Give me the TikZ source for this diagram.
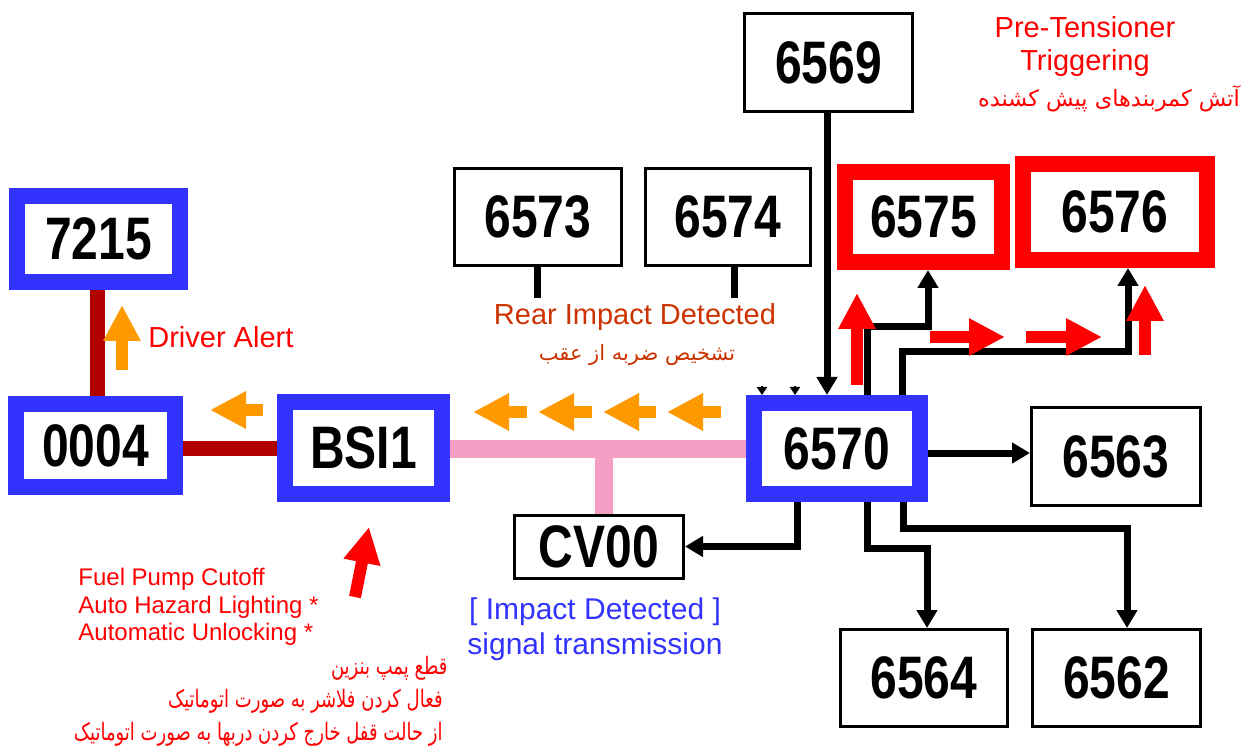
\documentclass[tikz,border=0pt]{standalone}
\usepackage{fontspec}
\setmainfont{Liberation Sans}
\newfontfamily\numfont[FakeStretch=0.8]{Liberation Sans Bold}
\newfontfamily\arabicfont[Script=Arabic]{DejaVu Sans}
\newfontfamily\arabicnarrow[Script=Arabic,FakeStretch=0.75]{DejaVu Sans}
\TeXXeTstate=1
\usetikzlibrary{arrows.meta,calc}
\definecolor{nblue}{RGB}{51,51,255}
\definecolor{busred}{RGB}{178,0,0}
\definecolor{buspink}{RGB}{244,158,196}
\definecolor{aorange}{RGB}{255,153,0}
\definecolor{reartxt}{RGB}{204,51,0}
\begin{document}
\begin{tikzpicture}[x=0.5pt,y=-0.5pt,
  thinbox/.style={draw=black, line width=1.5pt, fill=white, inner sep=0pt,
    font=\numfont\fontsize{30}{30}\selectfont},
  bluebox/.style={thinbox, draw=nblue, line width=8pt},
  redbox/.style={thinbox, draw=red, line width=8pt},
  conn/.style={line width=3.5pt, -{Triangle[length=9pt,width=10pt]}},
  stub/.style={line width=3.5pt},
  oarrow/.style={draw=aorange, line width=6pt, -{Triangle[length=18pt,width=17.5pt]}},
  rarrow/.style={draw=red, line width=6pt, -{Triangle[length=18pt,width=17.5pt]}},
  redbus/.style={draw=busred, line width=7.5pt},
  pinkbus/.style={draw=buspink, line width=9pt},
  lbl/.style={inner sep=0pt, font=\fontsize{14.5}{16.5}\selectfont},
  fa/.style={inner sep=0pt, font=\arabicfont\fontsize{10.5}{12}\selectfont},
  falist/.style={inner sep=0pt, font=\arabicnarrow\fontsize{12}{14}\selectfont}
]
\useasboundingbox (0,0) rectangle (1250,749);
\fill[white] (0,0) rectangle (1250,749);

% nodes
\node[bluebox, minimum width=81.5pt, minimum height=43pt] (n7215) at (98.5,239) {7215};
\node[bluebox, minimum width=79.5pt, minimum height=41.5pt] (n0004) at (95.5,445.5) {0004};
\node[bluebox, minimum width=78.5pt, minimum height=46pt] (nBSI) at (363.5,448) {BSI1};
\node[bluebox, minimum width=83pt, minimum height=45.5pt] (n6570) at (837,448.5) {6570};
\node[redbox, minimum width=78.5pt, minimum height=45pt] (n6575) at (923.5,217) {6575};
\node[redbox, minimum width=92pt, minimum height=48pt] (n6576) at (1115,212) {6576};
\node[thinbox, minimum width=84pt, minimum height=49pt] (n6569) at (828.5,62.5) {6569};
\node[thinbox, minimum width=83.5pt, minimum height=48.5pt] (n6573) at (538,217) {6573};
\node[thinbox, minimum width=82.5pt, minimum height=48.5pt] (n6574) at (728,217) {6574};
\node[thinbox, minimum width=84.5pt, minimum height=49pt] (n6563) at (1116,456.5) {6563};
\node[thinbox, minimum width=83.5pt, minimum height=48.5pt] (n6564) at (924,678) {6564};
\node[thinbox, minimum width=84pt, minimum height=48.5pt] (n6562) at (1116.5,678) {6562};
\node[thinbox, minimum width=84.5pt, minimum height=31.5pt] (nCV) at (599,546.5) {CV00};

% bend points
\coordinate (p1) at (867,327);
\coordinate (p1b) at (928,327);
\coordinate (p2) at (902,352);
\coordinate (p2b) at (1128,352);
\coordinate (q) at (0,453);
\coordinate (c1) at (797,548);
\coordinate (c2) at (867,548);
\coordinate (c2b) at (927,548);
\coordinate (c3) at (903,528);
\coordinate (c3b) at (1127,528);
\coordinate (v1) at (827,0);
\coordinate (s1) at (537,298);
\coordinate (s2) at (734,298);
\coordinate (t1) at (762,386);
\coordinate (t2) at (795,386);
\coordinate (pb) at (604,449);

% buses
\draw[redbus] (n0004.north -| 97,0) -- (n7215.south -| 97,0);
\draw[redbus] (n0004.east |- 0,448) -- (nBSI.west |- 0,448);
\draw[pinkbus] (nBSI.east |- pb) -- (n6570.west |- pb);
\draw[pinkbus] (pb) -- (nCV.north -| pb);

% black connectors
\draw[conn] (n6569.south -| v1) -- (n6570.north -| v1);
\draw[conn] (n6570.north -| p1) |- (p1b) -- (n6575.south -| p1b);
\draw[conn] (n6570.north -| p2) |- (p2b) -- (n6576.south -| p2b);
\draw[conn] (n6570.east |- q) -- (n6563.west |- q);
\draw[conn] (n6570.south -| c1) |- (nCV.east);
\draw[conn] (n6570.south -| c2) |- (c2b) -- (n6564.north -| c2b);
\draw[conn] (n6570.south -| c3) |- (c3b) -- (n6562.north -| c3b);
\draw[stub] (n6573.south -| s1) -- (s1);
\draw[stub] (n6574.south -| s2) -- (s2);
\draw[line width=1pt, -{Triangle[length=4pt,width=5pt]}] (t1) -- (n6570.north -| t1);
\draw[line width=1pt, -{Triangle[length=4pt,width=5pt]}] (t2) -- (n6570.north -| t2);

% block arrows
\draw[oarrow] (122,370) -- (122,305);
\draw[oarrow] (263,410) -- (210,410);
\draw[oarrow] (527,412) -- (473,412);
\draw[oarrow] (592,412) -- (538,412);
\draw[oarrow] (656,412) -- (603,412);
\draw[oarrow] (721,412) -- (667,412);
\draw[rarrow] (857,385) -- (857,293);
\draw[rarrow] (930,337) -- (1005,337);
\draw[rarrow] (1026,337) -- (1102,337);
\draw[rarrow] (1145,355) -- (1145,285);
\draw[rarrow] (355,597) -- (369,527);

% labels
\node[lbl, text=red, align=center] (tpre) at (1085,47) {Pre-Tensioner\\Triggering};
\node[inner sep=0pt, text=red, font=\arabicfont\fontsize{11.2}{13}\selectfont] (tpref) at (1109,99) {\beginR آتش کمربندهای پیش کشنده\endR};
\node[lbl, text=red, anchor=west] (tdrv) at (148,337) {Driver Alert};
\node[lbl, text=reartxt] (trear) at (635,317) {Rear Impact Detected};
\node[fa, text=reartxt] (trearf) at (637,355) {\beginR تشخیص ضربه از عقب\endR};
\node[inner sep=0pt, text=nblue, align=center, font=\fontsize{15}{17.5}\selectfont] (timp) at (595,629) {[ Impact Detected ]\\signal transmission};
\node[inner sep=0pt, text=red, align=left, anchor=west, font=\fontsize{12}{13.75}\selectfont] (tlist) at (78,607) {Fuel Pump Cutoff\\Auto Hazard Lighting *\\Automatic Unlocking *};
\node[falist, text=red, anchor=east] (tf1) at (448,668) {\beginR قطع پمپ بنزین\endR};
\node[falist, text=red, anchor=east] (tf2) at (443,701) {\beginR فعال کردن فلاشر به صورت اتوماتیک\endR};
\node[falist, text=red, anchor=east] (tf3) at (443,734) {\beginR از حالت قفل خارج کردن دربها به صورت اتوماتیک\endR};
\end{tikzpicture}
\end{document}
